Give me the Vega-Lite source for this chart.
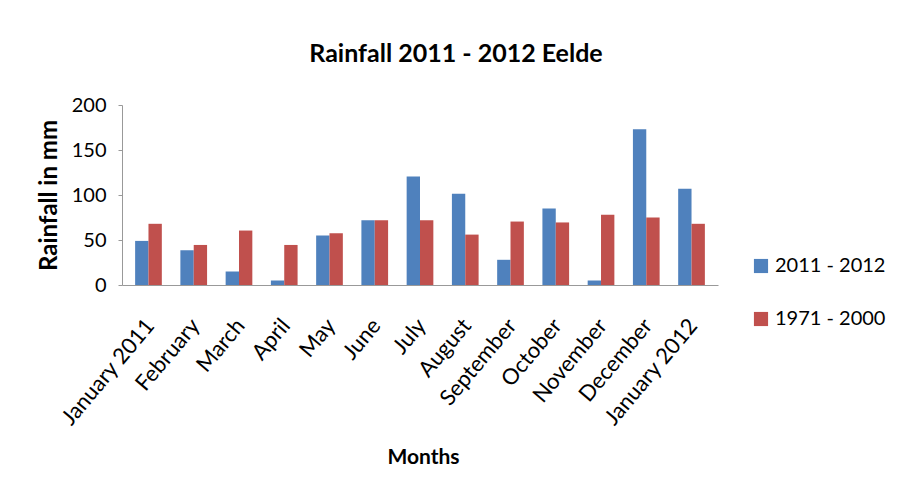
{
  "$schema": "https://vega.github.io/schema/vega-lite/v6.json",
  "width": 596,
  "height": 180,
  "autosize": "none",
  "padding": {"left": 122, "top": 105, "right": 183, "bottom": 217},
  "background": "white",
  "title": {"text": "Rainfall 2011 - 2012 Eelde", "fontSize": 25, "font": "Lato", "fontWeight": "bold", "color": "#000", "offset": 28, "dx": 36},
  "data": {"values": [
    {"month": "January 2011", "period": "2011 - 2012", "rain": 49},
    {"month": "January 2011", "period": "1971 - 2000", "rain": 68},
    {"month": "February", "period": "2011 - 2012", "rain": 38.5},
    {"month": "February", "period": "1971 - 2000", "rain": 44.5},
    {"month": "March", "period": "2011 - 2012", "rain": 15},
    {"month": "March", "period": "1971 - 2000", "rain": 60.5},
    {"month": "April", "period": "2011 - 2012", "rain": 5},
    {"month": "April", "period": "1971 - 2000", "rain": 44.5},
    {"month": "May", "period": "2011 - 2012", "rain": 55},
    {"month": "May", "period": "1971 - 2000", "rain": 57.5},
    {"month": "June", "period": "2011 - 2012", "rain": 72},
    {"month": "June", "period": "1971 - 2000", "rain": 72},
    {"month": "July", "period": "2011 - 2012", "rain": 120.5},
    {"month": "July", "period": "1971 - 2000", "rain": 72},
    {"month": "August", "period": "2011 - 2012", "rain": 101.5},
    {"month": "August", "period": "1971 - 2000", "rain": 56},
    {"month": "September", "period": "2011 - 2012", "rain": 28},
    {"month": "September", "period": "1971 - 2000", "rain": 70.5},
    {"month": "October", "period": "2011 - 2012", "rain": 85},
    {"month": "October", "period": "1971 - 2000", "rain": 69.5},
    {"month": "November", "period": "2011 - 2012", "rain": 5},
    {"month": "November", "period": "1971 - 2000", "rain": 78},
    {"month": "December", "period": "2011 - 2012", "rain": 173},
    {"month": "December", "period": "1971 - 2000", "rain": 75},
    {"month": "January 2012", "period": "2011 - 2012", "rain": 107},
    {"month": "January 2012", "period": "1971 - 2000", "rain": 68}
  ]},
  "mark": {"type": "bar"},
  "encoding": {
    "x": {
      "field": "month", "type": "nominal", "sort": null,
      "scale": {"paddingInner": 0.41, "paddingOuter": 0.29},
      "axis": {
        "title": "Months", "titleFont": "Lato", "titleFontSize": 21, "titleFontWeight": "bold", "titleColor": "#000",
        "titleY": 172, "titleBaseline": "middle", "titleX": 301,
        "labelAngle": -50, "labelAlign": "right", "labelBaseline": "top", "labelFont": "Lato", "labelFontSize": 22, "labelColor": "#000", "labelPadding": 30, "labelOffset": -6,
        "domainColor": "#999", "ticks": false
      }
    },
    "xOffset": {"field": "period", "type": "nominal", "sort": ["2011 - 2012", "1971 - 2000"], "scale": {"paddingInner": 0, "paddingOuter": 0}},
    "y": {
      "field": "rain", "type": "quantitative",
      "scale": {"domain": [0, 200]},
      "axis": {
        "title": "Rainfall in mm", "titleFont": "Lato", "titleFontSize": 24, "titleFontWeight": "bold", "titleColor": "#000", "titlePadding": 10,
        "values": [0, 50, 100, 150, 200], "grid": false,
        "labelFont": "Lato", "labelFontSize": 20, "labelColor": "#000", "labelPadding": 12,
        "domainColor": "#999", "tickColor": "#999", "tickSize": 4
      }
    },
    "color": {
      "field": "period", "type": "nominal", "sort": ["2011 - 2012", "1971 - 2000"],
      "scale": {"domain": ["2011 - 2012", "1971 - 2000"], "range": ["#4F81BD", "#C0504D"]},
      "legend": {
        "title": null, "orient": "none", "legendX": 629, "legendY": 151,
        "symbolType": "square", "symbolSize": 200, "symbolStrokeWidth": 0,
        "labelFont": "Lato", "labelFontSize": 20, "labelColor": "#000", "rowPadding": 33, "labelOffset": 4
      }
    }
  },
  "config": {"view": {"stroke": null}}
}
